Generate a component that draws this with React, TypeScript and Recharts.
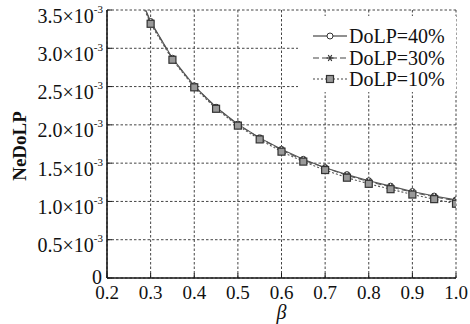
import React from 'react';
import { LineChart, Line, XAxis, YAxis, CartesianGrid, Legend } from 'recharts';

const beta = [0.25, 0.3, 0.35, 0.4, 0.45, 0.5, 0.55, 0.6, 0.65, 0.7, 0.75, 0.8, 0.85, 0.9, 0.95, 1.0];
const dolp40 = [4.02, 3.35, 2.87, 2.51, 2.23, 2.01, 1.83, 1.68, 1.55, 1.44, 1.35, 1.27, 1.2, 1.13, 1.07, 1.02];
const dolp30 = [4.01, 3.34, 2.86, 2.5, 2.23, 2.0, 1.83, 1.67, 1.54, 1.44, 1.34, 1.26, 1.19, 1.12, 1.06, 1.01];
const dolp10 = [3.98, 3.32, 2.85, 2.49, 2.21, 1.99, 1.81, 1.65, 1.52, 1.41, 1.31, 1.23, 1.16, 1.09, 1.03, 0.97];

const xTicks = [0.2, 0.3, 0.4, 0.5, 0.6, 0.7, 0.8, 0.9, 1.0];
const xTickLabels = ['0.2', '0.3', '0.4', '0.5', '0.6', '0.7', '0.8', '0.9', '1.0'];
const yTicks = [0, 0.5, 1.0, 1.5, 2.0, 2.5, 3.0, 3.5];
const yTickLabels = ['0', '0.5', '1.0', '1.5', '2.0', '2.5', '3.0', '3.5'];
const yExponent = '-3';
const seriesNames = ['DoLP=40%', 'DoLP=30%', 'DoLP=10%'];

const data = beta.map((b, i) => ({ beta: b, d40: dolp40[i], d30: dolp30[i], d10: dolp10[i] }));

const FONT = "'Liberation Serif', 'DejaVu Serif', serif";
const AXIS = '#1a1a1a';
const LINE = '#555';

function Marker({ kind, cx, cy }: { kind: string; cx: number; cy: number }) {
  if (cx == null || cy == null || isNaN(cx) || isNaN(cy)) return null;
  if (kind === 'circle') {
    return <circle cx={cx} cy={cy} r={3} fill="#fff" stroke="#333" strokeWidth={1} />;
  }
  if (kind === 'star') {
    const s = 3.5;
    return (
      <g stroke="#333" strokeWidth={1.2}>
        <line x1={cx - s} y1={cy} x2={cx + s} y2={cy} />
        <line x1={cx - s * 0.5} y1={cy - s * 0.87} x2={cx + s * 0.5} y2={cy + s * 0.87} />
        <line x1={cx - s * 0.5} y1={cy + s * 0.87} x2={cx + s * 0.5} y2={cy - s * 0.87} />
      </g>
    );
  }
  return <rect x={cx - 3.5} y={cy - 3.5} width={7} height={7} fill="#999" stroke="#333" strokeWidth={1.2} />;
}

const mkDot = (kind: string) => (props: any) => (
  <Marker key={`${kind}-${props.index}`} kind={kind} cx={props.cx} cy={props.cy} />
);

const series = [
  { key: 'd40', name: seriesNames[0], dash: undefined as string | undefined, marker: 'circle' },
  { key: 'd30', name: seriesNames[1], dash: '6 3', marker: 'star' },
  { key: 'd10', name: seriesNames[2], dash: '2 2', marker: 'square' },
];

const txt = { fontFamily: FONT, fill: '#111' };

const BottomTick = (props: any) => {
  const { x, y, payload } = props;
  return (
    <g>
      <line x1={x} y1={y} x2={x} y2={y - 5} stroke={AXIS} strokeWidth={1} />
      <text x={x} y={y + 20.5} textAnchor="middle" style={{ ...txt, fontSize: 19 }}>
        {xTickLabels[xTicks.indexOf(payload.value)] ?? payload.value}
      </text>
    </g>
  );
};

const TopTick = (props: any) => {
  const { x, y } = props;
  return <line x1={x} y1={y} x2={x} y2={y + 5} stroke={AXIS} strokeWidth={1} />;
};

const LeftTick = (props: any) => {
  const { x, y, payload } = props;
  const idx = yTicks.indexOf(payload.value);
  const label = yTickLabels[idx] ?? String(payload.value);
  const isZero = payload.value === 0;
  return (
    <g>
      <line x1={x} y1={y} x2={x + 5} y2={y} stroke={AXIS} strokeWidth={1} />
      {isZero ? (
        <text x={x - 5} y={y + 6} textAnchor="end" style={{ ...txt, fontSize: 20 }}>
          {label}
        </text>
      ) : (
        <text x={x - 4} y={y + 12.5} textAnchor="end" style={{ ...txt, fontSize: 20 }}>
          <tspan>{label}×10</tspan>
          <tspan dy={-10} style={{ fontSize: 11 }}>{yExponent}</tspan>
        </text>
      )}
    </g>
  );
};

const RightTick = (props: any) => {
  const { x, y } = props;
  return <line x1={x} y1={y} x2={x - 5} y2={y} stroke={AXIS} strokeWidth={1} />;
};

const renderLegend = () => (
  <div style={{ background: '#fff', width: 158, height: 76 }}>
    <svg width={158} height={76}>
      {series.map((s, i) => {
        const cy = [20, 42, 63][i];
        return (
          <g key={s.key}>
            <line x1={15} y1={cy} x2={49} y2={cy} stroke={i === 0 ? '#222' : '#444'} strokeWidth={1.2} strokeDasharray={s.dash} />
            <Marker kind={s.marker} cx={32} cy={cy} />
            <text x={51} y={cy + 6.5} style={{ ...txt, fontSize: 20 }}>
              {s.name}
            </text>
          </g>
        );
      })}
    </svg>
  </div>
);

export default function App() {
  return (
    <div style={{ position: 'absolute', left: 0, top: 0, width: 470, height: 324, background: '#fff', fontFamily: FONT }}>
      <LineChart width={470} height={324} data={data} margin={{ top: 10, right: 14, bottom: 0, left: 0 }}>
        <CartesianGrid
          xAxisId="bottom"
          yAxisId="left"
          stroke="#444"
          strokeDasharray="2.5 2"
          strokeWidth={1}
          verticalValues={xTicks}
          horizontalValues={yTicks}
        />
        <XAxis
          xAxisId="bottom"
          dataKey="beta"
          type="number"
          domain={[0.2, 1.0]}
          ticks={xTicks}
          allowDataOverflow
          height={46}
          tickSize={0}
          tickMargin={0}
          tickLine={false}
          tick={BottomTick}
          axisLine={{ stroke: AXIS, strokeWidth: 1.6 }}
          interval={0}
          label={(p: any) => {
            const vb = p.viewBox;
            return (
              <text x={vb.x + vb.width / 2} y={vb.y + 41} textAnchor="middle" style={{ ...txt, fontStyle: 'italic', fontSize: 20 }}>
                β
              </text>
            );
          }}
        />
        <XAxis
          xAxisId="top"
          orientation="top"
          dataKey="beta"
          type="number"
          domain={[0.2, 1.0]}
          ticks={xTicks}
          allowDataOverflow
          height={0}
          tickSize={0}
          tickMargin={0}
          tickLine={false}
          tick={TopTick}
          axisLine={{ stroke: AXIS, strokeWidth: 1.6 }}
          interval={0}
        />
        <YAxis
          yAxisId="left"
          type="number"
          domain={[0, 3.5]}
          ticks={yTicks}
          allowDataOverflow
          width={107}
          tickSize={0}
          tickMargin={0}
          tickLine={false}
          tick={LeftTick}
          axisLine={{ stroke: AXIS, strokeWidth: 1.6 }}
          interval={0}
          label={(p: any) => {
            const vb = p.viewBox;
            const cx = vb.x + 26;
            const cy = vb.y + vb.height / 2 + 2;
            return (
              <text x={cx} y={cy} transform={`rotate(-90 ${cx} ${cy})`} textAnchor="middle" style={{ ...txt, fontWeight: 'bold', fontSize: 19 }}>
                NeDoLP
              </text>
            );
          }}
        />
        <YAxis
          yAxisId="right"
          orientation="right"
          type="number"
          domain={[0, 3.5]}
          ticks={yTicks}
          allowDataOverflow
          width={0}
          tickSize={0}
          tickMargin={0}
          tickLine={false}
          tick={RightTick}
          axisLine={{ stroke: AXIS, strokeWidth: 1.6 }}
          interval={0}
        />
        <Legend
          layout="vertical"
          align="center"
          verticalAlign="middle"
          content={renderLegend}
          wrapperStyle={{ position: 'absolute', left: 298, top: 16, width: 158, height: 76 }}
        />
        {series.map((s) => (
          <Line
            key={s.key}
            xAxisId="bottom"
            yAxisId="left"
            dataKey={s.key}
            name={s.name}
            type="linear"
            stroke={LINE}
            strokeWidth={1.1}
            strokeDasharray={s.dash}
            dot={mkDot(s.marker)}
            activeDot={false}
            isAnimationActive={false}
          />
        ))}
      </LineChart>
    </div>
  );
}
